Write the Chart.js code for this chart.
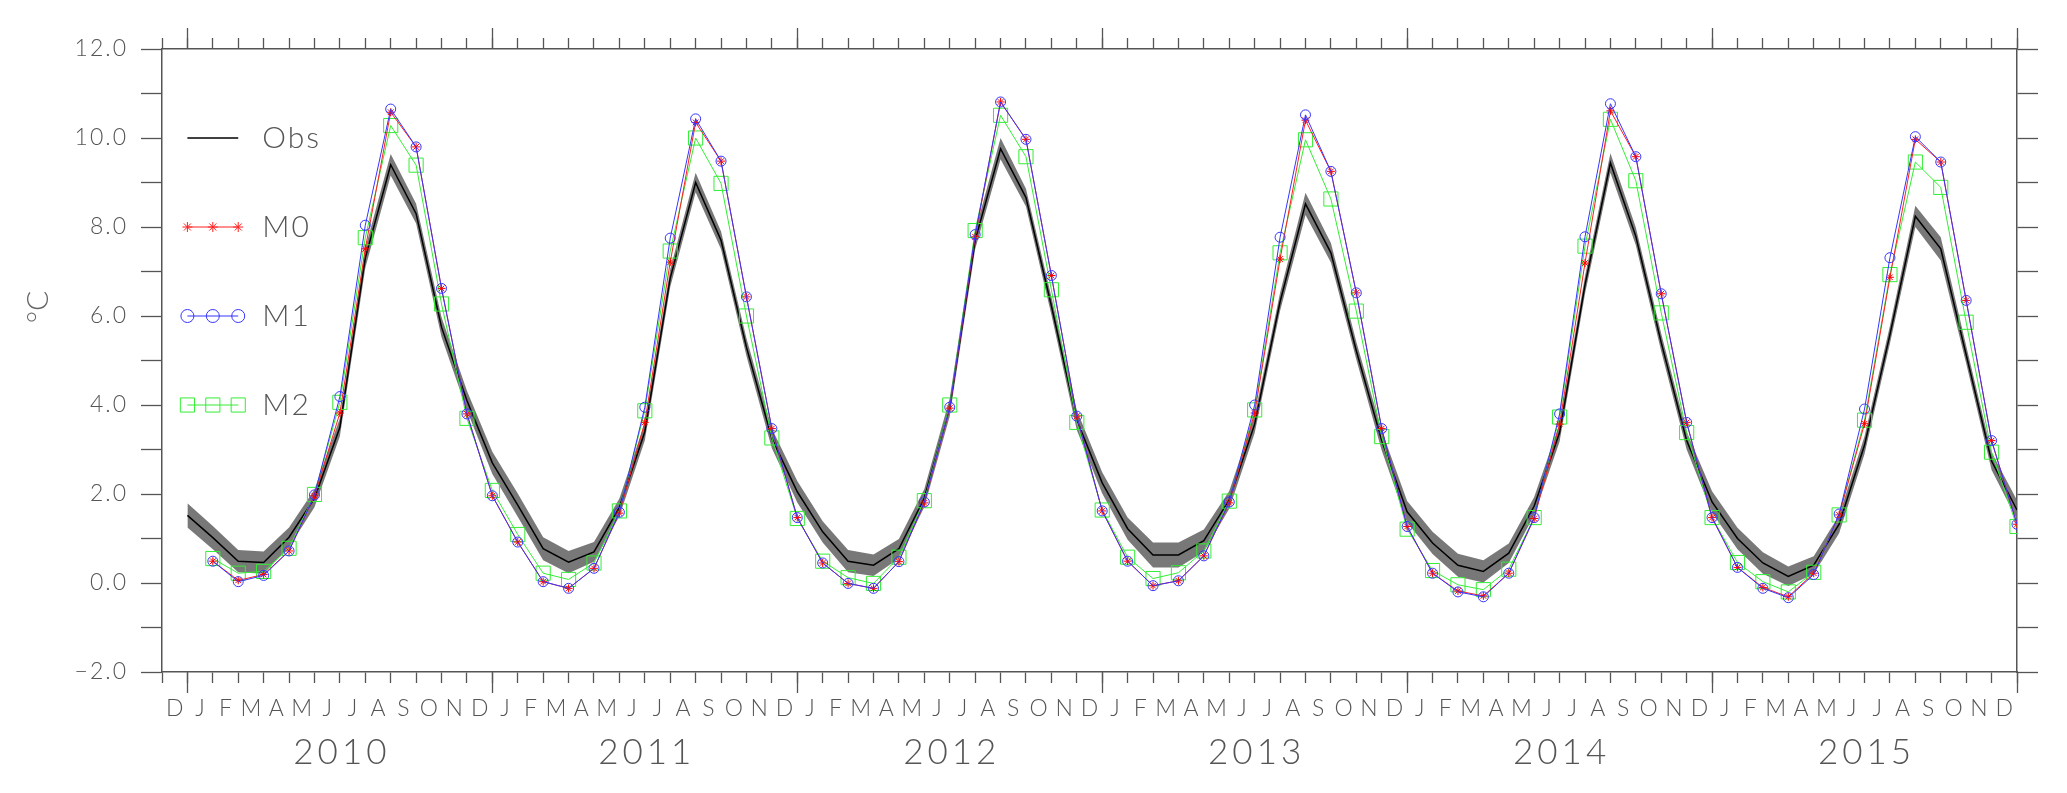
<!DOCTYPE html>
<html>
<head>
<meta charset="utf-8">
<title>Obs vs M0 / M1 / M2</title>
<script src="https://cdn.jsdelivr.net/npm/chart.js@4.4.1/dist/chart.umd.min.js"></script>
<style>
    html, body { margin: 0; padding: 0; background: #fff; }
    canvas { display: block; }
</style>
</head>
<body>
<canvas id="chart" width="2067" height="793"></canvas>
<script>
// month index 0 = Dec 2009 ... 72 = Dec 2015
const monthLetters = ["D", "J", "F", "M", "A", "M", "J", "J", "A", "S", "O", "N"];
const years = ["2010", "2011", "2012", "2013", "2014", "2015"];

const obs = [1.52,
    1.02, 0.49, 0.46, 1.03, 1.90, 3.50, 7.30, 9.40, 8.30, 5.75, 4.10, 2.70,
    1.75, 0.77, 0.47, 0.70, 1.70, 3.40, 6.85, 9.00, 7.70, 5.30, 3.25, 2.05,
    1.15, 0.49, 0.40, 0.77, 1.91, 3.95, 7.70, 9.76, 8.66, 6.23, 3.66, 2.25,
    1.22, 0.63, 0.63, 0.95, 1.87, 3.57, 6.32, 8.52, 7.42, 5.22, 3.20, 1.60,
    0.90, 0.40, 0.26, 0.67, 1.73, 3.38, 6.70, 9.44, 7.79, 5.40, 3.20, 1.82,
    1.00, 0.45, 0.15, 0.40, 1.32, 3.10, 5.58, 8.24, 7.51, 5.13, 2.74, 1.64];

const obsSpread = [0.27,
    0.26, 0.25, 0.25, 0.22, 0.20, 0.20, 0.22, 0.24, 0.22, 0.22, 0.22, 0.25,
    0.26, 0.26, 0.25, 0.22, 0.20, 0.20, 0.20, 0.22, 0.20, 0.20, 0.22, 0.24,
    0.24, 0.25, 0.24, 0.22, 0.20, 0.20, 0.20, 0.24, 0.20, 0.20, 0.22, 0.24,
    0.25, 0.28, 0.28, 0.25, 0.20, 0.20, 0.20, 0.25, 0.22, 0.20, 0.22, 0.24,
    0.25, 0.26, 0.25, 0.22, 0.20, 0.20, 0.20, 0.22, 0.20, 0.20, 0.20, 0.24,
    0.24, 0.24, 0.22, 0.20, 0.20, 0.20, 0.20, 0.24, 0.26, 0.20, 0.20, 0.22];

// model runs start in Jan 2010 (index 1)
const m0 = [
    0.49, 0.06, 0.19, 0.72, 1.96, 3.82, 7.51, 10.58, 9.80, 6.62, 3.80, 1.96,
    0.92, 0.03, -0.12, 0.33, 1.57, 3.61, 7.21, 10.35, 9.48, 6.43, 3.47, 1.47,
    0.45, -0.01, -0.12, 0.48, 1.80, 3.93, 7.78, 10.81, 9.97, 6.91, 3.75, 1.62,
    0.49, -0.06, 0.05, 0.61, 1.80, 3.82, 7.28, 10.40, 9.25, 6.52, 3.47, 1.27,
    0.22, -0.18, -0.29, 0.22, 1.45, 3.57, 7.19, 10.61, 9.58, 6.50, 3.61, 1.47,
    0.35, -0.10, -0.31, 0.22, 1.53, 3.58, 6.87, 9.97, 9.46, 6.35, 3.20, 1.32];

const m1 = [
    0.49, 0.03, 0.17, 0.72, 1.98, 4.19, 8.04, 10.65, 9.80, 6.62, 3.80, 1.96,
    0.92, 0.03, -0.12, 0.33, 1.59, 3.95, 7.75, 10.43, 9.48, 6.43, 3.47, 1.47,
    0.45, -0.01, -0.12, 0.48, 1.82, 3.95, 7.83, 10.81, 9.97, 6.91, 3.75, 1.62,
    0.49, -0.06, 0.05, 0.61, 1.82, 4.00, 7.77, 10.52, 9.25, 6.52, 3.47, 1.27,
    0.22, -0.20, -0.31, 0.22, 1.47, 3.80, 7.78, 10.77, 9.58, 6.50, 3.61, 1.47,
    0.35, -0.12, -0.33, 0.19, 1.55, 3.91, 7.31, 10.03, 9.46, 6.35, 3.20, 1.32];

const m2 = [
    0.55, 0.22, 0.26, 0.78, 1.99, 4.06, 7.76, 10.28, 9.39, 6.27, 3.70, 2.08,
    1.09, 0.22, 0.08, 0.45, 1.62, 3.87, 7.46, 10.00, 8.98, 6.00, 3.26, 1.45,
    0.49, 0.12, -0.01, 0.58, 1.85, 4.00, 7.92, 10.51, 9.58, 6.59, 3.61, 1.64,
    0.58, 0.10, 0.23, 0.72, 1.84, 3.89, 7.42, 9.96, 8.63, 6.11, 3.29, 1.21,
    0.28, -0.04, -0.15, 0.31, 1.47, 3.73, 7.57, 10.42, 9.04, 6.07, 3.38, 1.47,
    0.46, 0.03, -0.20, 0.24, 1.53, 3.66, 6.93, 9.46, 8.89, 5.86, 2.94, 1.27];

const FONT = "Lato, 'DejaVu Sans', sans-serif";
const TEXT = "#555";
const AXIS = "#555";

const points = (values, start) => values.map((v, i) => ({ x: i + start, y: v }));

// legend entries sit at fixed data coordinates inside the plot
const legendItems = [
    { text: "Obs", y: 10, color: "#000", style: null, radius: 0 },
    { text: "M0", y: 8, color: "#ff2020", style: "star", radius: 5 },
    { text: "M1", y: 6, color: "#3535ff", style: "circle", radius: 6.5 },
    { text: "M2", y: 4, color: "#33ee33", style: "rect", radius: 10 }
];

// wider tracking, the original lettering is spaced out
const spacing = {
    id: "spacing",
    beforeDraw(chart) {
        chart.ctx.letterSpacing = "2px";
    }
};

const decorations = {
    id: "decorations",
    afterDraw(chart) {
        const ctx = chart.ctx;
        const xs = chart.scales.x;
        const ys = chart.scales.y;
        const area = chart.chartArea;
        ctx.save();

        // long ticks at each December, top and bottom
        ctx.strokeStyle = AXIS;
        ctx.lineWidth = 1.3;
        for (let k = 0; k <= years.length; k++) {
            const px = Math.round(xs.getPixelForValue(12 * k)) + 0.5;
            ctx.beginPath();
            ctx.moveTo(px, area.bottom);
            ctx.lineTo(px, area.bottom + 21);
            ctx.moveTo(px, area.top);
            ctx.lineTo(px, area.top - 21);
            ctx.stroke();
        }

        // year labels
        ctx.fillStyle = TEXT;
        ctx.font = "300 35px " + FONT;
        ctx.letterSpacing = "4px";
        ctx.textAlign = "center";
        ctx.textBaseline = "middle";
        years.forEach((year, k) => {
            ctx.fillText(year, xs.getPixelForValue(6 + 12 * k) + 2, 753);
        });

        // y axis unit
        ctx.letterSpacing = "0px";
        ctx.save();
        ctx.translate(38, 307);
        ctx.rotate(-Math.PI / 2);
        ctx.font = "300 30px " + FONT;
        ctx.fillStyle = "#666";
        ctx.fillText("\u00B0C", 0, 0);
        ctx.restore();

        // legend
        ctx.font = "300 30px " + FONT;
        ctx.letterSpacing = "2px";
        ctx.textAlign = "left";
        legendItems.forEach(item => {
            const py = ys.getPixelForValue(item.y);
            ctx.strokeStyle = item.color;
            ctx.lineWidth = item.style ? 1 : 1.5;
            ctx.beginPath();
            ctx.moveTo(xs.getPixelForValue(0), py);
            ctx.lineTo(xs.getPixelForValue(2), py);
            ctx.stroke();
            if (item.style) {
                ctx.fillStyle = "rgba(0,0,0,0)";
                for (let i = 0; i <= 2; i++) {
                    Chart.helpers.drawPoint(ctx, {
                        pointStyle: item.style,
                        radius: item.radius,
                        rotation: 0,
                        borderWidth: 1
                    }, xs.getPixelForValue(i), py);
                }
            }
            ctx.fillStyle = TEXT;
            ctx.fillText(item.text, xs.getPixelForValue(2.95), py);
        });

        ctx.restore();
    }
};

function monthLabel(value) {
    if (value < 0) return "";
    return monthLetters[value % 12];
}

function yLabel(value) {
    if (value % 2 !== 0) return "";
    return value < 0 ? "\u2212" + Math.abs(value).toFixed(1) : value.toFixed(1);
}

function drawChart(container) {
    const gridOpts = (len) => ({
        drawOnChartArea: false,
        tickLength: len,
        tickColor: AXIS,
        tickWidth: 1.3
    });
    const borderOpts = { color: AXIS, width: 1.5 };

    new Chart(container, {
        type: "line",
        data: {
            datasets: [{
                label: "M1",
                data: points(m1, 1),
                borderColor: "#3535ff",
                borderWidth: 1,
                pointStyle: "circle",
                pointRadius: 5,
                pointBorderColor: "#3535ff",
                pointBorderWidth: 1,
                pointBackgroundColor: "rgba(0,0,0,0)",
                order: 0
            },
            {
                label: "M0",
                data: points(m0, 1),
                borderColor: "#ff2020",
                borderWidth: 1,
                pointStyle: "star",
                pointRadius: 4,
                pointBorderColor: "#ff0000",
                pointBorderWidth: 1,
                pointBackgroundColor: "rgba(0,0,0,0)",
                order: 1
            },
            {
                label: "M2",
                data: points(m2, 1),
                borderColor: "#33ee33",
                borderWidth: 1,
                pointStyle: "rect",
                pointRadius: 10,
                pointBorderColor: "#33ee33",
                pointBorderWidth: 1,
                pointBackgroundColor: "rgba(0,0,0,0)",
                order: 2
            },
            {
                label: "Obs",
                data: points(obs, 0),
                borderColor: "#000",
                borderWidth: 1.5,
                pointRadius: 0,
                order: 3
            },
            {
                label: "Obs low",
                data: obs.map((v, i) => ({ x: i, y: v - obsSpread[i] })),
                borderWidth: 0,
                borderColor: "rgba(0,0,0,0)",
                pointRadius: 0,
                order: 5
            },
            {
                label: "Obs high",
                data: obs.map((v, i) => ({ x: i, y: v + obsSpread[i] })),
                borderWidth: 0,
                borderColor: "rgba(0,0,0,0)",
                backgroundColor: "rgba(105,105,105,0.9)",
                fill: "-1",
                pointRadius: 0,
                order: 4
            }]
        },
        options: {
            responsive: false,
            animation: false,
            devicePixelRatio: 1,
            layout: { padding: 0 },
            elements: { line: { tension: 0 } },
            plugins: {
                legend: { display: false },
                tooltip: { enabled: false }
            },
            scales: {
                x: {
                    type: "linear",
                    position: "bottom",
                    min: -1,
                    max: 72,
                    afterFit: scale => { scale.height = 121; },
                    ticks: {
                        stepSize: 1,
                        autoSkip: false,
                        maxTicksLimit: 200,
                        maxRotation: 0,
                        minRotation: 0,
                        labelOffset: -11.7,
                        padding: 12,
                        color: TEXT,
                        font: { family: FONT, size: 23, weight: "300" },
                        callback: monthLabel
                    },
                    grid: gridOpts(11),
                    border: borderOpts
                },
                xTop: {
                    type: "linear",
                    position: "top",
                    min: -1,
                    max: 72,
                    afterFit: scale => { scale.height = 49; },
                    ticks: { display: false, stepSize: 1, maxTicksLimit: 200, autoSkip: false },
                    grid: gridOpts(11),
                    border: borderOpts
                },
                y: {
                    position: "left",
                    min: -2,
                    max: 12,
                    afterFit: scale => { scale.width = 162; },
                    ticks: {
                        stepSize: 1,
                        autoSkip: false,
                        padding: 13,
                        color: TEXT,
                        font: { family: FONT, size: 23, weight: "300" },
                        callback: yLabel
                    },
                    grid: gridOpts(21),
                    border: borderOpts
                },
                yRight: {
                    position: "right",
                    min: -2,
                    max: 12,
                    afterFit: scale => { scale.width = 50; },
                    ticks: { display: false, stepSize: 1, autoSkip: false },
                    grid: gridOpts(21),
                    border: borderOpts
                }
            }
        },
        plugins: [spacing, decorations]
    });
}

window.onload = () => {
    drawChart(document.getElementById("chart"));
};
</script>
</body>
</html>
